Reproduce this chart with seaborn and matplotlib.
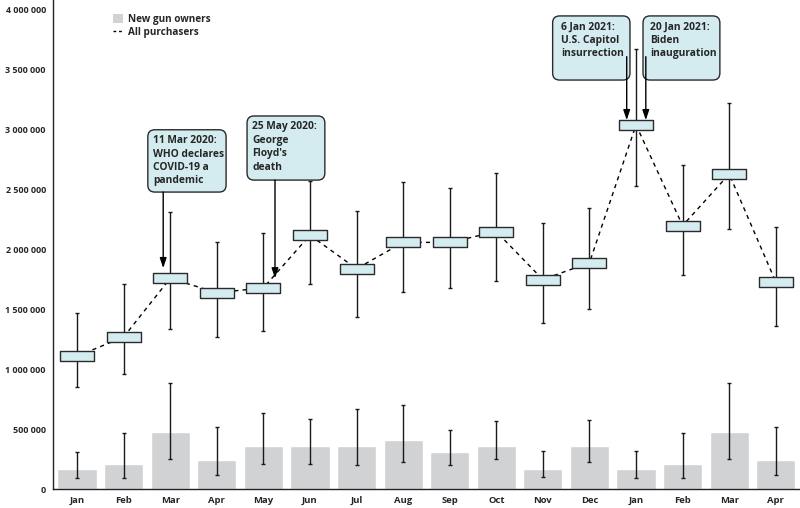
import numpy as np
import pandas as pd
import matplotlib
matplotlib.use("Agg")
import matplotlib.pyplot as plt
from matplotlib.path import Path
from matplotlib.patches import Patch, FancyBboxPatch
from matplotlib.lines import Line2D
import seaborn as sns

months = ["Jan", "Feb", "Mar", "Apr", "May", "Jun", "Jul", "Aug",
          "Sep", "Oct", "Nov", "Dec", "Jan", "Feb", "Mar", "Apr"]
keys = ["2020-01", "2020-02", "2020-03", "2020-04", "2020-05", "2020-06",
        "2020-07", "2020-08", "2020-09", "2020-10", "2020-11", "2020-12",
        "2021-01", "2021-02", "2021-03", "2021-04"]

# all purchasers (estimate, lower, upper)
allp = [1.11e6, 1.27e6, 1.76e6, 1.64e6, 1.68e6, 2.12e6, 1.84e6, 2.06e6,
        2.06e6, 2.15e6, 1.75e6, 1.89e6, 3.04e6, 2.20e6, 2.63e6, 1.73e6]
allp_lo = [0.85e6, 0.96e6, 1.34e6, 1.27e6, 1.32e6, 1.71e6, 1.44e6, 1.65e6,
           1.68e6, 1.74e6, 1.39e6, 1.50e6, 2.53e6, 1.79e6, 2.17e6, 1.36e6]
allp_hi = [1.47e6, 1.71e6, 2.31e6, 2.06e6, 2.14e6, 2.57e6, 2.32e6, 2.56e6,
           2.51e6, 2.64e6, 2.22e6, 2.35e6, 3.67e6, 2.71e6, 3.22e6, 2.19e6]

# new gun owners (estimate, lower, upper)
new = [0.167e6, 0.21e6, 0.48e6, 0.24e6, 0.36e6, 0.36e6, 0.36e6, 0.41e6,
       0.31e6, 0.36e6, 0.167e6, 0.36e6, 0.167e6, 0.21e6, 0.48e6, 0.24e6]
new_lo = [0.09e6, 0.09e6, 0.25e6, 0.12e6, 0.21e6, 0.21e6, 0.20e6, 0.23e6,
          0.20e6, 0.25e6, 0.10e6, 0.23e6, 0.09e6, 0.09e6, 0.25e6, 0.12e6]
new_hi = [0.31e6, 0.47e6, 0.885e6, 0.52e6, 0.64e6, 0.59e6, 0.67e6, 0.70e6,
          0.49e6, 0.57e6, 0.32e6, 0.58e6, 0.32e6, 0.47e6, 0.885e6, 0.52e6]

events = ["11 Mar 2020:\nWHO declares\nCOVID-19 a\npandemic",
          "25 May 2020:\nGeorge\nFloyd's\ndeath",
          "6 Jan 2021:\nU.S. Capitol\ninsurrection",
          "20 Jan 2021:\nBiden\ninauguration"]

df = pd.DataFrame({"month": keys, "new": new, "allp": allp})
x = np.arange(len(keys))

sns.set_style("white")
plt.rcParams["font.family"] = ["Open Sans", "DejaVu Sans"]

fig = plt.figure(figsize=(8, 5.08), dpi=100)
ax = fig.add_axes([0.066, 0.037, 0.934, 0.963])

sns.barplot(data=df, x="month", y="new", color="#d1d2d4", width=0.84,
            errorbar=None, ax=ax, zorder=1)
ax.errorbar(x, new, yerr=[np.array(new) - np.array(new_lo), np.array(new_hi) - np.array(new)],
            fmt="none", ecolor="#1a1a1a", elinewidth=1, capsize=1.5, capthick=1, zorder=2)

sns.lineplot(x=x, y=allp, color="black", linewidth=1, linestyle=(0, (3, 3)),
             ax=ax, zorder=3)
ax.errorbar(x, allp, yerr=[np.array(allp) - np.array(allp_lo), np.array(allp_hi) - np.array(allp)],
            fmt="none", ecolor="#1a1a1a", elinewidth=1, capsize=1.5, capthick=1, zorder=4)

box = Path([(-1, -0.29), (1, -0.29), (1, 0.29), (-1, 0.29), (-1, -0.29)],
           [Path.MOVETO, Path.LINETO, Path.LINETO, Path.LINETO, Path.CLOSEPOLY])
sns.scatterplot(x=x, y=allp, marker=box, s=635, color="#d4ecef",
                edgecolor="#2a2a2a", linewidth=1, ax=ax, zorder=5, legend=False)

ax.set_xlim(-0.52, 15.52)
ax.set_ylim(0, 4.083e6)

# event call-outs: box (left, right, bottom, top), text anchor, arrow x, arrow start, arrow tip
aspect = (1e6 / 119.75) / (1 / 46.6)  # y-units per x-unit for equal pixels
callouts = [
    ((1.52, 3.20, 2.48e6, 3.00e6), (1.64, 2.955e6), 1.85, 2.48e6, 1.845e6),
    ((3.65, 5.32, 2.58e6, 3.115e6), (3.76, 3.07e6), 4.25, 2.58e6, 1.76e6),
    ((10.21, 11.87, 3.415e6, 3.95e6), (10.40, 3.905e6), 11.80, 3.61e6, 3.08e6),
    ((12.15, 13.80, 3.415e6, 3.95e6), (12.30, 3.905e6), 12.21, 3.61e6, 3.08e6),
]
arrow = dict(arrowstyle="-|>,head_length=0.6,head_width=0.2", color="black", lw=1,
             shrinkA=0, shrinkB=0)
for label, (b, t, ax_x, a0, a1) in zip(events, callouts):
    x0, x1, y0, y1 = b
    ax.add_patch(FancyBboxPatch((x0, y0), x1 - x0, y1 - y0,
                                boxstyle="round,pad=0,rounding_size=0.15",
                                mutation_aspect=aspect, fc="#d4ecef", ec="#2a2a2a",
                                lw=1, zorder=6))
    ax.text(t[0], t[1], label, fontsize=7.4, fontweight="bold", ha="left", va="top",
            linespacing=1.3, zorder=7)
    ax.annotate("", xy=(ax_x, a1), xytext=(ax_x, a0), arrowprops=arrow, zorder=8)

yt = np.arange(0, 4000001, 500000)
ax.set_yticks(yt)
ax.set_yticklabels(["{:,}".format(v).replace(",", " ") for v in yt],
                   fontsize=6.4, fontweight="bold")
ax.set_xticks(x)
ax.set_xticklabels(months, fontsize=6.8, fontweight="bold")
ax.tick_params(axis="both", length=3, width=1, color="#222", pad=2)
ax.set_xlabel("")
ax.set_ylabel("")
sns.despine(ax=ax)
for s in ["left", "bottom"]:
    ax.spines[s].set_color("#222")
    ax.spines[s].set_linewidth(1)

handles = [Patch(fc="#d1d2d4", ec="none"),
           Line2D([], [], color="black", lw=1, linestyle=(0, (2, 2)))]
ax.legend(handles, ["New gun owners", "All purchasers"], loc="upper left",
          bbox_to_anchor=(0.068, 0.99), frameon=False,
          handlelength=1.0, handleheight=1.0, handletextpad=0.5, labelspacing=0.2,
          prop=dict(weight="bold", size=7.2))

fig.savefig("out.png", dpi=100)
